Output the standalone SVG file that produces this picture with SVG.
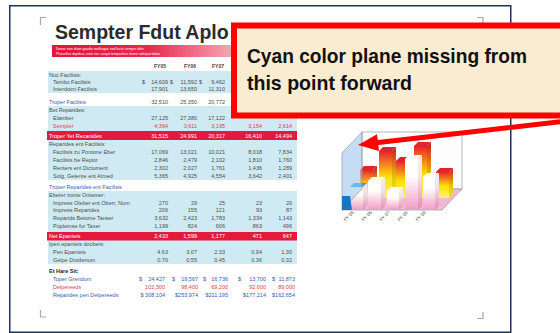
<svg xmlns="http://www.w3.org/2000/svg" width="560" height="333" viewBox="0 0 560 333">
<defs>
<style>
.t{font-family:"Liberation Sans",Arial,sans-serif;font-size:5.5px;fill:#4d4d4d}
.e{text-anchor:end}
.bl{fill:#3a5cb4}
.rd{fill:#e8384f}
.wh{fill:#fff}
.hd{font-weight:bold;fill:#444;font-size:5px}
.bk{font-weight:bold;fill:#222}
.cy{fill:#cfeaf2}
.rb{fill:#e41a3d}
.mark{fill:none;stroke:#a8a8a8;stroke-width:1.2}
.fr{stroke:#9a9a9a;stroke-width:0.7}
.lab{font-family:"Liberation Sans",Arial,sans-serif;font-size:4.6px;fill:#555;text-anchor:end}
</style>
<linearGradient id="ban" x1="0" y1="0" x2="1" y2="0">
<stop offset="0" stop-color="#e0163a"/>
<stop offset="0.5" stop-color="#e8254a"/>
<stop offset="1" stop-color="#f6b6c2"/>
</linearGradient>
<linearGradient id="gb" x1="0" y1="0" x2="0" y2="1">
<stop offset="0" stop-color="#e8222a"/>
<stop offset="0.3" stop-color="#f58a1f"/>
<stop offset="0.55" stop-color="#ffe400"/>
<stop offset="1" stop-color="#fff07a"/>
</linearGradient>
<linearGradient id="gbs" x1="0" y1="0" x2="0" y2="1">
<stop offset="0" stop-color="#c51b22"/>
<stop offset="0.35" stop-color="#e07a10"/>
<stop offset="0.6" stop-color="#e8c800"/>
<stop offset="1" stop-color="#eed85a"/>
</linearGradient>
<linearGradient id="gf" x1="0" y1="0" x2="0" y2="1">
<stop offset="0" stop-color="#ffffff"/>
<stop offset="0.35" stop-color="#fffdfb"/>
<stop offset="1" stop-color="#f09cc4"/>
</linearGradient>
<linearGradient id="gfs" x1="0" y1="0" x2="0" y2="1">
<stop offset="0" stop-color="#f2efe6"/>
<stop offset="0.4" stop-color="#efe3e6"/>
<stop offset="1" stop-color="#e48ab5"/>
</linearGradient>
</defs>

<rect x="0" y="0" width="560" height="333" fill="#ffffff"/>

<g id="page">
<rect x="9.75" y="5.75" width="501" height="326.5" fill="#fefefe" stroke="#1c3556" stroke-width="1.5"/>
<path class="mark" d="M40.5,25 V17.5 H46"/>
<path class="mark" d="M477,17.5 H483 V23"/>
<path class="mark" d="M40.5,310 V317 H46"/>
<path class="mark" d="M477,318.5 H483 V312"/>
<text x="55" y="39" font-family="Liberation Sans,Arial,sans-serif" font-weight="bold" font-size="19.5" fill="#2b2b2b">Sempter Fdut Aplo</text>
<rect x="52" y="45" width="190" height="12" fill="url(#ban)"/>
<text x="56" y="50" font-family="Liberation Sans,Arial,sans-serif" font-size="3.5" fill="#fff">Donec non diam gaudia mollisque sed lucto semper ditin</text>
<text x="56" y="55" font-family="Liberation Sans,Arial,sans-serif" font-size="3.5" fill="#fff">Phasellus dapibus, ante nec suspit temporibus lorem volutpat dolor.</text>
</g>

<g id="table">
<rect class="cy" x="48" y="71" width="249" height="22"/>
<rect class="cy" x="48" y="106" width="249" height="74"/>
<rect class="cy" x="48" y="191" width="249" height="73"/>
<rect class="rb" x="47" y="131" width="250" height="9"/>
<rect class="rb" x="47" y="232" width="250" height="8.5"/>

<text class="t hd e" x="166" y="68">FY05</text>
<text class="t hd e" x="196" y="68">FY06</text>
<text class="t hd e" x="224" y="68">FY07</text>

<text class="t" x="49" y="77">Nuc Facilisis:</text>
<text class="t" x="53" y="84">Tembo Facilisis</text>
<text class="t" x="142" y="84">$</text><text class="t e" x="168" y="84">14,609</text>
<text class="t" x="170" y="84">$</text><text class="t e" x="197" y="84">11,592</text>
<text class="t" x="199" y="84">$</text><text class="t e" x="225" y="84">9,462</text>
<text class="t" x="53" y="91">Interdoint Facilisis</text>
<text class="t e" x="168" y="91">17,901</text><text class="t e" x="197" y="91">13,650</text><text class="t e" x="225" y="91">11,310</text>

<text class="t bl" x="49" y="104">Troper Facilisis</text>
<text class="t e" x="168" y="104">32,510</text><text class="t e" x="197" y="104">25,350</text><text class="t e" x="225" y="104">20,772</text>

<text class="t" x="49" y="112">Bet Reparides:</text>
<text class="t" x="53" y="120">Elamber</text>
<text class="t e" x="168" y="120">27,125</text><text class="t e" x="197" y="120">27,380</text><text class="t e" x="225" y="120">17,122</text>
<text class="t rd" x="53" y="128">Sempler</text>
<text class="t rd e" x="168" y="128">4,394</text><text class="t rd e" x="197" y="128">3,611</text><text class="t rd e" x="225" y="128">3,195</text><text class="t rd e" x="262" y="128">3,154</text><text class="t rd e" x="292" y="128">2,614</text>

<text class="t wh" x="49" y="137.8">Troper Yet Recanides</text>
<text class="t wh e" x="168" y="137.8">31,515</text><text class="t wh e" x="197" y="137.8">24,991</text><text class="t wh e" x="225" y="137.8">20,317</text><text class="t wh e" x="262" y="137.8">16,410</text><text class="t wh e" x="292" y="137.8">14,494</text>

<text class="t" x="49" y="146">Reparides ent Facilisis:</text>
<text class="t" x="53" y="154">Facilisis zu Pontone Eber</text>
<text class="t e" x="168" y="154">17,069</text><text class="t e" x="197" y="154">13,021</text><text class="t e" x="225" y="154">10,021</text><text class="t e" x="262" y="154">8,018</text><text class="t e" x="292" y="154">7,834</text>
<text class="t" x="53" y="162">Facilisis be Replor</text>
<text class="t e" x="168" y="162">2,846</text><text class="t e" x="197" y="162">2,479</text><text class="t e" x="225" y="162">2,102</text><text class="t e" x="262" y="162">1,810</text><text class="t e" x="292" y="162">1,760</text>
<text class="t" x="53" y="170">Renters ent Dictument</text>
<text class="t e" x="168" y="170">2,302</text><text class="t e" x="197" y="170">2,027</text><text class="t e" x="225" y="170">1,761</text><text class="t e" x="262" y="170">1,436</text><text class="t e" x="292" y="170">1,289</text>
<text class="t" x="53" y="178">Solg, Gelenre ent Atmed</text>
<text class="t e" x="168" y="178">5,365</text><text class="t e" x="197" y="178">4,925</text><text class="t e" x="225" y="178">4,554</text><text class="t e" x="262" y="178">3,642</text><text class="t e" x="292" y="178">2,401</text>

<text class="t bl" x="49" y="189">Troper Reparides ent Facilisis</text>
<text class="t" x="49" y="197">Eberer zonte Ontemer:</text>
<text class="t" x="53" y="205">Impress Oleber ent Oberr, Num</text>
<text class="t e" x="168" y="205">270</text><text class="t e" x="197" y="205">29</text><text class="t e" x="225" y="205">25</text><text class="t e" x="262" y="205">23</text><text class="t e" x="292" y="205">20</text>
<text class="t" x="53" y="212">Impress Reparides</text>
<text class="t e" x="168" y="212">206</text><text class="t e" x="197" y="212">155</text><text class="t e" x="225" y="212">121</text><text class="t e" x="262" y="212">93</text><text class="t e" x="292" y="212">87</text>
<text class="t" x="53" y="220">Reparids Betome Tanser</text>
<text class="t e" x="168" y="220">3,632</text><text class="t e" x="197" y="220">2,423</text><text class="t e" x="225" y="220">1,783</text><text class="t e" x="262" y="220">1,334</text><text class="t e" x="292" y="220">1,143</text>
<text class="t" x="53" y="228">Poplemse fur Taxer</text>
<text class="t e" x="168" y="228">1,199</text><text class="t e" x="197" y="228">824</text><text class="t e" x="225" y="228">606</text><text class="t e" x="262" y="228">863</text><text class="t e" x="292" y="228">496</text>

<text class="t wh" x="49" y="238.3">Net Epanteis</text>
<text class="t wh e" x="168" y="238.3">2,433</text><text class="t wh e" x="197" y="238.3">1,599</text><text class="t wh e" x="225" y="238.3">1,177</text><text class="t wh e" x="262" y="238.3">471</text><text class="t wh e" x="292" y="238.3">647</text>

<text class="t" x="49" y="246">Ipen epanteis docbers:</text>
<text class="t" x="53" y="254">Pen Epanteis</text>
<text class="t e" x="168" y="254">4.63</text><text class="t e" x="197" y="254">3.07</text><text class="t e" x="225" y="254">2.33</text><text class="t e" x="262" y="254">0.94</text><text class="t e" x="292" y="254">1.30</text>
<text class="t" x="53" y="262">Gelpe Dividenum</text>
<text class="t e" x="168" y="262">0.70</text><text class="t e" x="197" y="262">0.55</text><text class="t e" x="225" y="262">0.45</text><text class="t e" x="262" y="262">0.36</text><text class="t e" x="292" y="262">0.32</text>

<text class="t bk" x="49" y="273">Et Hare Sit:</text>
<text class="t bl" x="53" y="281">Toper Grendum</text>
<text class="t bl" x="139" y="281">$</text><text class="t bl e" x="165" y="281">24,427</text>
<text class="t bl" x="172" y="281">$</text><text class="t bl e" x="198" y="281">19,567</text>
<text class="t bl" x="203" y="281">$</text><text class="t bl e" x="228" y="281">16,736</text>
<text class="t bl" x="238" y="281">$</text><text class="t bl e" x="266" y="281">13,700</text>
<text class="t bl" x="272" y="281">$</text><text class="t bl e" x="295" y="281">11,873</text>
<text class="t rd" x="53" y="289">Delpereeds</text>
<text class="t rd e" x="165" y="289">102,300</text><text class="t rd e" x="198" y="289">98,400</text><text class="t rd e" x="228" y="289">69,200</text><text class="t rd e" x="266" y="289">92,600</text><text class="t rd e" x="295" y="289">89,000</text>
<text class="t bl" x="53" y="297">Reparides pen Delpereeds</text>
<text class="t bl e" x="165" y="297">$ 308,104</text><text class="t bl e" x="198" y="297">$253,974</text><text class="t bl e" x="228" y="297">$211,195</text><text class="t bl e" x="266" y="297">$177,214</text><text class="t bl e" x="295" y="297">$162,654</text>
</g>

<g id="chart">
<rect x="362" y="132" width="100" height="57" fill="#fdfdfd" class="fr"/>
<polygon points="342,210 442,210 462,189 362,189" fill="#f2b8d2" class="fr"/>
<g>
<polygon points="360,170 364,166 377,166 373,170" fill="#e0242c"/>
<polygon points="373,170 377,166 377,194 373,198" fill="url(#gbs)"/>
<rect x="360" y="170" width="13" height="28" fill="url(#gb)"/>
<polygon points="379,151 383,147 396,147 392,151" fill="#e0242c"/>
<polygon points="392,151 396,147 396,194 392,198" fill="url(#gbs)"/>
<rect x="379" y="151" width="13" height="47" fill="url(#gb)"/>
<polygon points="396,161 400,157 413,157 409,161" fill="#e0242c"/>
<polygon points="409,161 413,157 413,194 409,198" fill="url(#gbs)"/>
<rect x="396" y="161" width="13" height="37" fill="url(#gb)"/>
<polygon points="414,146 418,142 431,142 427,146" fill="#e0242c"/>
<polygon points="427,146 431,142 431,194 427,198" fill="url(#gbs)"/>
<rect x="414" y="146" width="13" height="52" fill="url(#gb)"/>
<polygon points="436,172 440,168 453,168 449,172" fill="#e0242c"/>
<polygon points="449,172 453,168 453,194 449,198" fill="url(#gbs)"/>
<rect x="436" y="172" width="13" height="26" fill="url(#gb)"/>
</g>
<g>
<polygon points="350,187 354,183 367,183 363,187" fill="#2aa2dc"/>
<polygon points="363,187 367,183 367,206 363,210" fill="url(#gfs)"/>
<rect x="350" y="187" width="13" height="23" fill="url(#gf)"/>
<polygon points="368,181 372,177 385,177 381,181" fill="#fffff2"/>
<polygon points="381,181 385,177 385,206 381,210" fill="url(#gfs)"/>
<rect x="368" y="181" width="13" height="29" fill="url(#gf)"/>
<polygon points="387,191 391,187 403,187 399,191" fill="#fffff2"/>
<polygon points="399,191 403,187 403,206 399,210" fill="url(#gfs)"/>
<rect x="387" y="191" width="12" height="19" fill="url(#gf)"/>
<polygon points="405,159 409,155 422,155 418,159" fill="#fffff2"/>
<polygon points="418,159 422,155 422,206 418,210" fill="url(#gfs)"/>
<rect x="405" y="159" width="13" height="51" fill="url(#gf)"/>
<polygon points="423,177 427,173 439,173 435,177" fill="#fffff2"/>
<polygon points="435,177 439,173 439,206 435,210" fill="url(#gfs)"/>
<rect x="423" y="177" width="12" height="33" fill="url(#gf)"/>
</g>
<polygon points="342,153 362,132 362,189 342,210" fill="#9fc6ec" fill-opacity="0.6" class="fr"/>
<polygon points="342,196 350,196 352,210 342,210" fill="#1a74c4"/>
<text class="lab" transform="translate(354,213) rotate(-45)">FY 05</text>
<text class="lab" transform="translate(372,213) rotate(-45)">FY 06</text>
<text class="lab" transform="translate(390,213) rotate(-45)">FY 07</text>
<text class="lab" transform="translate(408,213) rotate(-45)">FY 08</text>
<text class="lab" transform="translate(426,213) rotate(-45)">FY 09</text>
</g>

<g id="callout">
<rect x="234" y="25.5" width="340" height="90" fill="#faecd0" stroke="#ff0000" stroke-width="6"/>
<text x="247" y="63" font-family="Liberation Sans,Arial,sans-serif" font-weight="bold" font-size="21" fill="#111" textLength="280" lengthAdjust="spacingAndGlyphs">Cyan color plane missing from</text>
<text x="247" y="90" font-family="Liberation Sans,Arial,sans-serif" font-weight="bold" font-size="21" fill="#111" textLength="165" lengthAdjust="spacingAndGlyphs">this point forward</text>
</g>

<g id="connectors">
<line x1="566" y1="121" x2="376" y2="142.8" stroke="#ff0000" stroke-width="5"/>
<polygon points="358,145 377,134.2 379,151" fill="#ff0000"/>
</g>
</svg>
